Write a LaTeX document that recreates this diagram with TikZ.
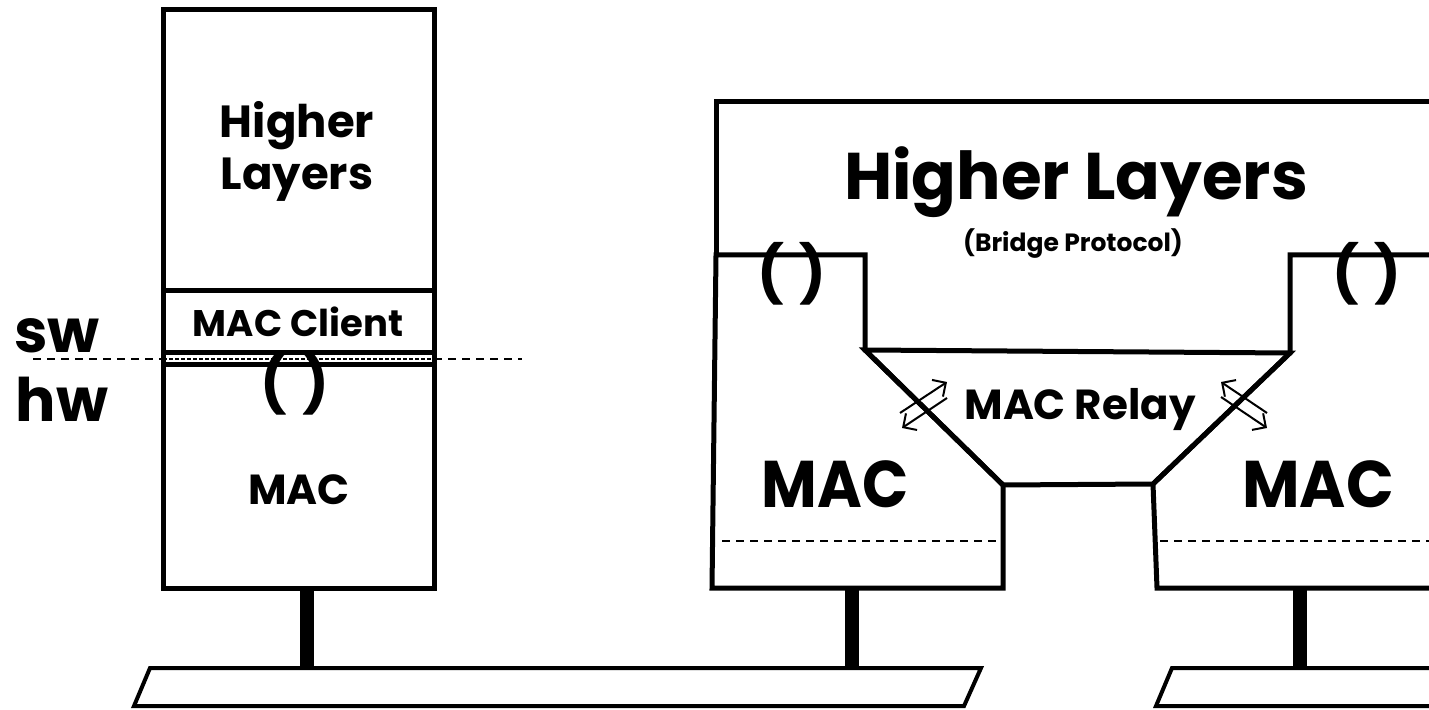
\documentclass[tikz,border=0pt]{standalone}
\usepackage{fontspec}
\setmainfont{Poppins}
\usetikzlibrary{arrows.meta}
\tikzset{
  wall/.style  = {line width=2.5pt, line join=miter},
  stem/.style  = {line width=7pt},
  bus/.style   = {line width=2pt, line join=miter},
  sep/.style   = {line width=0.8pt, dash pattern=on 4pt off 3pt},
  dual/.style  = {line width=1pt, -{Straight Barb[length=5pt,width=10pt]}},
  lbl/.style   = {font=\bfseries\fontsize{#1}{#1}\selectfont,
                  inner sep=0pt, align=center, anchor=base},
}
\newcommand{\sap}{(\hspace{8pt})}

\begin{document}
\begin{tikzpicture}[x=0.5pt, y=-0.5pt]
\clip (0,0) rectangle (1429,710);

% ── End station ──────────────────────────────────────────
\draw[wall] (163,10) rectangle (434,588);
\draw[wall] (163,291) -- (434,291);
\draw[wall] (163,353) -- (434,353);
\draw[wall] (163,365) -- (434,365);
\draw[sep]  (33,359) -- (163,359);
\draw[sep]  (434,359) -- (522,359);
\draw[line width=0.8pt, dash pattern=on 2pt off 1pt] (163,359) -- (434,359);

\node[lbl=22.5] (hostHL)  at (297,190) {Higher\\[3.5pt]Layers};
\node[lbl=18.5] (hostCl)  at (298,337) {MAC Client};
\node[lbl=28]   (hostSap) at (295,404) {\sap};
\node[lbl=21]   (hostMAC) at (299,505) {MAC};
\node[lbl=30]   (sw)      at (57,353)  {sw};
\node[lbl=30]   (hw)      at (62,422)  {hw};

% ── Bridge ────────────────────────────────────────────────
\draw[wall] (716,255) -- (716,102) -- (1440,102);
\draw[wall] (716,255) -- (865,255) -- (865,350) -- (1003,485)
            -- (1003,588) -- (712,588) -- cycle;
\draw[wall] (865,350) -- (1290,353) -- (1153,484) -- (1003,485) -- cycle;
\draw[wall] (1440,255) -- (1290,255) -- (1290,353) -- (1153,484)
            -- (1157,588) -- (1440,588);
\draw[sep]  (722,541) -- (997,541);
\draw[sep]  (1160,541) -- (1429,541);

\node[lbl=33]   (brHL)   at (1076,200) {Higher Layers};
\node[lbl=12.5] (brProt) at (1073,252) {(Bridge Protocol)};
\node[lbl=28]   (sapL)   at (792,294)  {\sap};
\node[lbl=28]   (sapR)   at (1367,294) {\sap};
\node[lbl=21]   (relay)  at (1080,420) {MAC Relay};
\node[lbl=33]   (macL)   at (835,508)  {\scalebox{0.92}[1]{MAC}};
\node[lbl=33]   (macR)   at (1318,508) {\scalebox{0.95}[1]{MAC}};

% ── Relay arrows ──────────────────────────────────────────
\draw[dual] (900,413) -- (947,382);
\draw[dual] (947,398) -- (902,428);
\draw[dual] (1267,413) -- (1221,382);
\draw[dual] (1221,397) -- (1267,428);

% ── LAN taps ──────────────────────────────────────────────
\coordinate (hostFoot) at (307,588);
\coordinate (hostTap)  at (307,668);
\coordinate (brFootL)  at (852,588);
\coordinate (brTapL)   at (852,668);
\coordinate (brFootR)  at (1300,588);
\coordinate (brTapR)   at (1300,668);

\draw[stem] (hostFoot) -- (hostTap);
\draw[stem] (brFootL) -- (brTapL);
\draw[stem] (brFootR) -- (brTapR);

\draw[bus] (150,668) -- (981,668) -- (964,706) -- (134,706) -- cycle;
\draw[bus] (1440,668) -- (1172,668) -- (1156,706) -- (1440,706);

\end{tikzpicture}
\end{document}
